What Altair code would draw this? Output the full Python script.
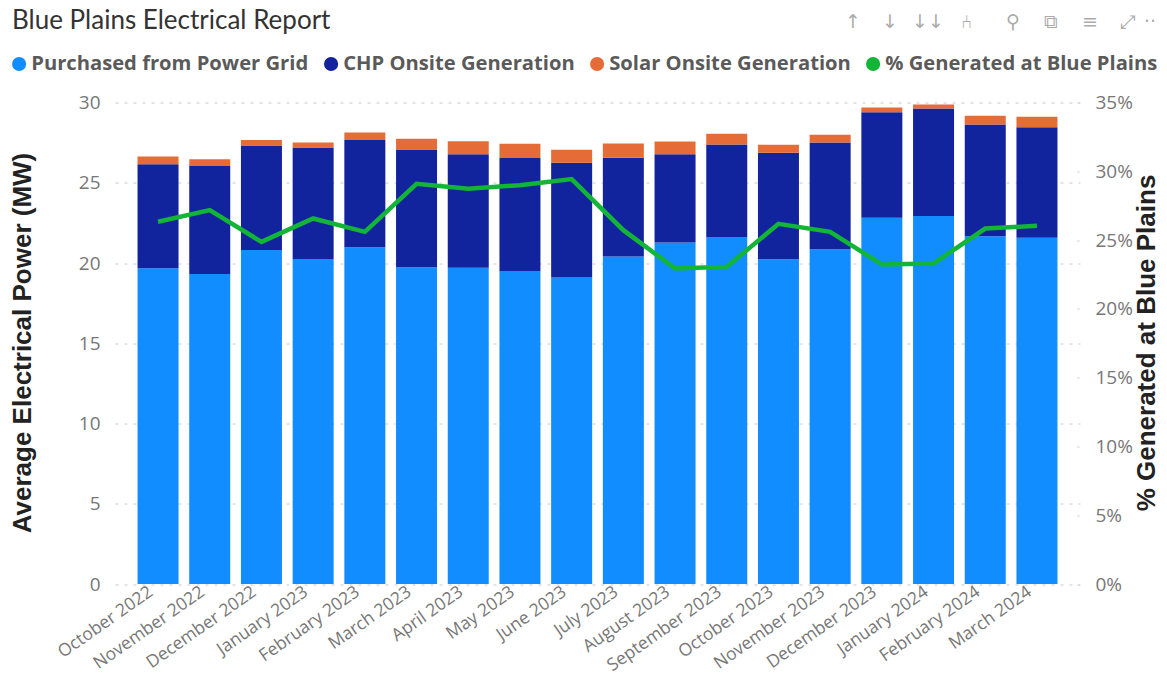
import altair as alt
import pandas as pd

months = ["October 2022", "November 2022", "December 2022", "January 2023", "February 2023", "March 2023",
          "April 2023", "May 2023", "June 2023", "July 2023", "August 2023", "September 2023",
          "October 2023", "November 2023", "December 2023", "January 2024", "February 2024", "March 2024"]
grid_mw = [19.67, 19.32, 20.81, 20.25, 20.98, 19.73, 19.71, 19.50, 19.09, 20.41, 21.27, 21.62,
           20.23, 20.85, 22.82, 22.93, 21.66, 21.58]
chp_top = [26.16, 26.04, 27.32, 27.20, 27.66, 27.07, 26.78, 26.54, 26.24, 26.56, 26.78, 27.39,
           26.87, 27.51, 29.40, 29.63, 28.63, 28.46]
total_top = [26.64, 26.47, 27.66, 27.51, 28.13, 27.74, 27.59, 27.43, 27.05, 27.45, 27.57, 28.05,
             27.37, 27.99, 29.69, 29.88, 29.17, 29.11]
pct_generated = [26.33, 27.18, 24.87, 26.57, 25.60, 29.09, 28.73, 28.99, 29.43, 25.72, 22.94, 23.06,
                 26.18, 25.60, 23.23, 23.30, 25.84, 26.04]

series = ["Purchased from Power Grid", "CHP Onsite Generation", "Solar Onsite Generation", "% Generated at Blue Plains"]
colors = ["#118DFF", "#12239E", "#E66C37", "#12B536"]
icons = ["↑", "↓", "↓↓", "⑃", "⚲", "⧉", "≡", "⤢", "··"]
icon_x = [853, 890, 928, 966, 1013, 1051, 1090, 1127, 1150]

rows = []
for i, m in enumerate(months):
    rows.append({"month": m, "series": series[0], "low": 0, "high": grid_mw[i]})
    rows.append({"month": m, "series": series[1], "low": grid_mw[i], "high": chp_top[i]})
    rows.append({"month": m, "series": series[2], "low": chp_top[i], "high": total_top[i]})
bars_df = pd.DataFrame(rows)
line_df = pd.DataFrame({"month": months, "pct": pct_generated})

OX, OY = 115, 102.5
W, H = 965, 481.5

x = alt.X("month:N", sort=months, title=None,
          scale=alt.Scale(paddingInner=0.207, paddingOuter=0.436),
          axis=alt.Axis(labelAngle=-35, labelFontSize=17.5, labelColor="#777777", labelFont="Open Sans",
                        domain=False, ticks=False, labelPadding=6, labelAlign="right", labelBaseline="middle",
                        labelOverlap=False, grid=False, labelOffset=-7))

bars = alt.Chart(bars_df).mark_bar().encode(
    x=x,
    y=alt.Y("low:Q", scale=alt.Scale(domain=[0, 30], nice=False),
            axis=alt.Axis(title="Average Electrical Power (MW)", values=[0, 5, 10, 15, 20, 25, 30],
                          labelFontSize=19, labelColor="#777777", labelFont="Open Sans", labelPadding=15,
                          domain=False, ticks=False, grid=True, gridColor="#C8C8C8", gridDash=[3, 6], gridWidth=1,
                          titleFont="Liberation Sans", titleFontSize=26, titleFontWeight="bold", titleColor="#222222",
                          titleX=-80, titleY=240)),
    y2="high:Q",
    color=alt.Color("series:N", scale=alt.Scale(domain=series, range=colors),
                    legend=alt.Legend(title=None, orient="none", direction="horizontal", columns=4,
                                      legendX=-106, legendY=-49,
                                      symbolType="circle", symbolSize=200, symbolStrokeWidth=0,
                                      labelFont="Open Sans", labelFontSize=20.2, labelFontWeight="bold",
                                      labelColor="#5A5A5A", labelOffset=2, columnPadding=12,
                                      labelLimit=400)),
)

line = alt.Chart(line_df).mark_line(strokeWidth=4.5, color=colors[3], strokeJoin="miter").encode(
    x=alt.X("month:N", sort=months),
    y=alt.Y("pct:Q", scale=alt.Scale(domain=[0, 35], nice=False),
            axis=alt.Axis(orient="right", title="% Generated at Blue Plains", values=[0, 5, 10, 15, 20, 25, 30, 35],
                          format=".0f", labelExpr="datum.value + '%'", offset=-3,
                          labelFontSize=19, labelColor="#777777", labelFont="Open Sans", labelPadding=16,
                          domain=False, ticks=True, tickSize=2, tickColor="#C8C8C8", grid=False,
                          titleFont="Liberation Sans", titleFontSize=26, titleFontWeight="bold", titleColor="#222222",
                          titleX=82, titleY=240, titleAngle=-90)),
)

icons_df = pd.DataFrame({"icon": icons, "px": [v - OX for v in icon_x]})
toolbar = alt.Chart(icons_df).mark_text(font="DejaVu Sans", fontSize=19, color="#ABABAB").encode(
    text="icon:N", x=alt.X("px:Q", scale=None), y=alt.value(22 - OY))

chart = alt.layer(bars, line, toolbar).resolve_scale(y="independent").properties(
    width=W, height=H,
    autosize="none",
    padding={"left": OX - 8, "top": OY - 8, "right": 1159 - OX - W, "bottom": 678 - OY - H},
    title=alt.TitleParams("Blue Plains Electrical Report", anchor="start", frame="group", dx=-103, offset=-21,
                          font="Lato", fontSize=26, fontWeight="normal", color="#333333"),
).configure_view(stroke=None)

chart.save("out.html", embed_options={"renderer": "svg", "actions": False})
